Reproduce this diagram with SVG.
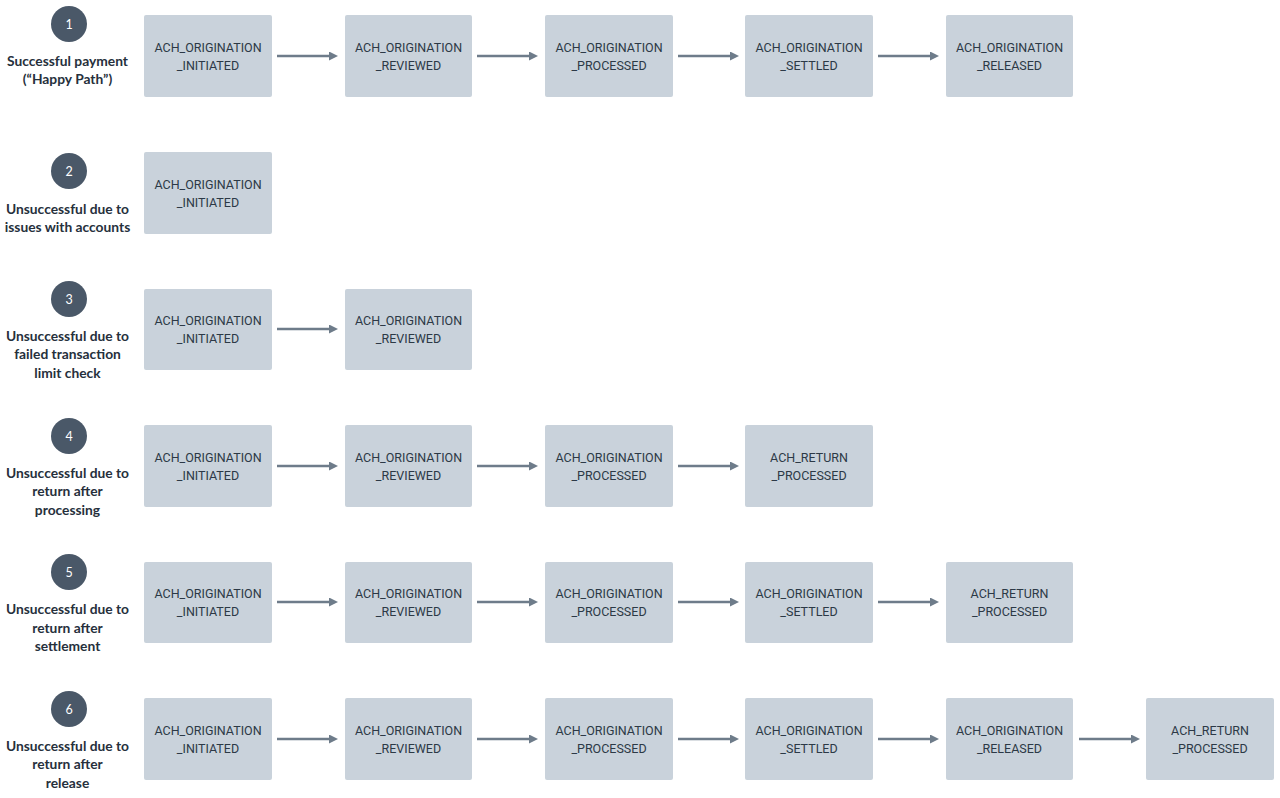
<svg xmlns="http://www.w3.org/2000/svg" width="1280" height="798" viewBox="0 0 1280 798">
<style>
.bg{fill:#ffffff}
.box{fill:#c9d2db}
.bt{font-family:Roboto,"Liberation Sans",sans-serif;font-size:12.5px;fill:#2c3946;text-anchor:middle}
.circ{fill:#4a5868}
.num{font-family:Lato,"Liberation Sans",sans-serif;font-size:12.5px;fill:#ffffff;text-anchor:middle}
.lbl{font-family:Lato,"Liberation Sans",sans-serif;font-size:13.8px;font-weight:bold;fill:#26303c;text-anchor:middle}
.ar{stroke:#6e7c8a;stroke-width:2.5;fill:none;marker-end:url(#ah)}
</style>
<defs>
<marker id="ah" markerWidth="9" markerHeight="9" refX="5" refY="4.5" orient="auto" markerUnits="userSpaceOnUse">
<path d="M0,0 L9,4.5 L0,9 Z" fill="#6e7c8a"/>
</marker>
</defs>
<rect class="bg" width="1280" height="798"/>

<!-- Row 1 -->
<g id="row1-label">
<circle class="circ" cx="69" cy="24" r="18"/>
<text class="num" x="69" y="28.5">1</text>
<text class="lbl" x="67.5" y="66">Successful payment</text>
<text class="lbl" x="67.5" y="84">(“Happy Path”)</text>
</g>
<g id="r1n1"><rect class="box" x="144" y="15" width="128" height="82" rx="2"/><text class="bt" x="208" y="51.5">ACH_ORIGINATION</text><text class="bt" x="208" y="69.5">_INITIATED</text></g>
<g id="r1n2"><rect class="box" x="345" y="15" width="127" height="82" rx="2"/><text class="bt" x="408.5" y="51.5">ACH_ORIGINATION</text><text class="bt" x="408.5" y="69.5">_REVIEWED</text></g>
<g id="r1n3"><rect class="box" x="545" y="15" width="128" height="82" rx="2"/><text class="bt" x="609" y="51.5">ACH_ORIGINATION</text><text class="bt" x="609" y="69.5">_PROCESSED</text></g>
<g id="r1n4"><rect class="box" x="745" y="15" width="128" height="82" rx="2"/><text class="bt" x="809" y="51.5">ACH_ORIGINATION</text><text class="bt" x="809" y="69.5">_SETTLED</text></g>
<g id="r1n5"><rect class="box" x="946" y="15" width="127" height="82" rx="2"/><text class="bt" x="1009.5" y="51.5">ACH_ORIGINATION</text><text class="bt" x="1009.5" y="69.5">_RELEASED</text></g>

<!-- Row 2 -->
<g id="row2-label">
<circle class="circ" cx="69" cy="171" r="18"/>
<text class="num" x="69" y="175.5">2</text>
<text class="lbl" x="67.5" y="214">Unsuccessful due to</text>
<text class="lbl" x="67.5" y="232">issues with accounts</text>
</g>
<g id="r2n1"><rect class="box" x="144" y="152" width="128" height="82" rx="2"/><text class="bt" x="208" y="188.5">ACH_ORIGINATION</text><text class="bt" x="208" y="206.5">_INITIATED</text></g>

<!-- Row 3 -->
<g id="row3-label">
<circle class="circ" cx="69" cy="299" r="18"/>
<text class="num" x="69" y="303.5">3</text>
<text class="lbl" x="67.5" y="341">Unsuccessful due to</text>
<text class="lbl" x="67.5" y="359">failed transaction</text>
<text class="lbl" x="67.5" y="377.5">limit check</text>
</g>
<g id="r3n1"><rect class="box" x="144" y="289" width="128" height="81" rx="2"/><text class="bt" x="208" y="325">ACH_ORIGINATION</text><text class="bt" x="208" y="343">_INITIATED</text></g>
<g id="r3n2"><rect class="box" x="345" y="289" width="127" height="81" rx="2"/><text class="bt" x="408.5" y="325">ACH_ORIGINATION</text><text class="bt" x="408.5" y="343">_REVIEWED</text></g>

<!-- Row 4 -->
<g id="row4-label">
<circle class="circ" cx="69" cy="436" r="18"/>
<text class="num" x="69" y="440.5">4</text>
<text class="lbl" x="67.5" y="478">Unsuccessful due to</text>
<text class="lbl" x="67.5" y="496">return after</text>
<text class="lbl" x="67.5" y="514.5">processing</text>
</g>
<g id="r4n1"><rect class="box" x="144" y="425" width="128" height="82" rx="2"/><text class="bt" x="208" y="461.5">ACH_ORIGINATION</text><text class="bt" x="208" y="479.5">_INITIATED</text></g>
<g id="r4n2"><rect class="box" x="345" y="425" width="127" height="82" rx="2"/><text class="bt" x="408.5" y="461.5">ACH_ORIGINATION</text><text class="bt" x="408.5" y="479.5">_REVIEWED</text></g>
<g id="r4n3"><rect class="box" x="545" y="425" width="128" height="82" rx="2"/><text class="bt" x="609" y="461.5">ACH_ORIGINATION</text><text class="bt" x="609" y="479.5">_PROCESSED</text></g>
<g id="r4n4"><rect class="box" x="745" y="425" width="128" height="82" rx="2"/><text class="bt" x="809" y="461.5">ACH_RETURN</text><text class="bt" x="809" y="479.5">_PROCESSED</text></g>

<!-- Row 5 -->
<g id="row5-label">
<circle class="circ" cx="69" cy="572" r="18"/>
<text class="num" x="69" y="576.5">5</text>
<text class="lbl" x="67.5" y="614">Unsuccessful due to</text>
<text class="lbl" x="67.5" y="632.5">return after</text>
<text class="lbl" x="67.5" y="651">settlement</text>
</g>
<g id="r5n1"><rect class="box" x="144" y="562" width="128" height="81" rx="2"/><text class="bt" x="208" y="598">ACH_ORIGINATION</text><text class="bt" x="208" y="616">_INITIATED</text></g>
<g id="r5n2"><rect class="box" x="345" y="562" width="127" height="81" rx="2"/><text class="bt" x="408.5" y="598">ACH_ORIGINATION</text><text class="bt" x="408.5" y="616">_REVIEWED</text></g>
<g id="r5n3"><rect class="box" x="545" y="562" width="128" height="81" rx="2"/><text class="bt" x="609" y="598">ACH_ORIGINATION</text><text class="bt" x="609" y="616">_PROCESSED</text></g>
<g id="r5n4"><rect class="box" x="745" y="562" width="128" height="81" rx="2"/><text class="bt" x="809" y="598">ACH_ORIGINATION</text><text class="bt" x="809" y="616">_SETTLED</text></g>
<g id="r5n5"><rect class="box" x="946" y="562" width="127" height="81" rx="2"/><text class="bt" x="1009.5" y="598">ACH_RETURN</text><text class="bt" x="1009.5" y="616">_PROCESSED</text></g>

<!-- Row 6 -->
<g id="row6-label">
<circle class="circ" cx="69" cy="709" r="18"/>
<text class="num" x="69" y="713.5">6</text>
<text class="lbl" x="67.5" y="751">Unsuccessful due to</text>
<text class="lbl" x="67.5" y="769">return after</text>
<text class="lbl" x="67.5" y="787.5">release</text>
</g>
<g id="r6n1"><rect class="box" x="144" y="698" width="128" height="82" rx="2"/><text class="bt" x="208" y="734.5">ACH_ORIGINATION</text><text class="bt" x="208" y="752.5">_INITIATED</text></g>
<g id="r6n2"><rect class="box" x="345" y="698" width="127" height="82" rx="2"/><text class="bt" x="408.5" y="734.5">ACH_ORIGINATION</text><text class="bt" x="408.5" y="752.5">_REVIEWED</text></g>
<g id="r6n3"><rect class="box" x="545" y="698" width="128" height="82" rx="2"/><text class="bt" x="609" y="734.5">ACH_ORIGINATION</text><text class="bt" x="609" y="752.5">_PROCESSED</text></g>
<g id="r6n4"><rect class="box" x="745" y="698" width="128" height="82" rx="2"/><text class="bt" x="809" y="734.5">ACH_ORIGINATION</text><text class="bt" x="809" y="752.5">_SETTLED</text></g>
<g id="r6n5"><rect class="box" x="946" y="698" width="127" height="82" rx="2"/><text class="bt" x="1009.5" y="734.5">ACH_ORIGINATION</text><text class="bt" x="1009.5" y="752.5">_RELEASED</text></g>
<g id="r6n6"><rect class="box" x="1146" y="698" width="128" height="82" rx="2"/><text class="bt" x="1210" y="734.5">ACH_RETURN</text><text class="bt" x="1210" y="752.5">_PROCESSED</text></g>

<g id="connectors">
<line class="ar" x1="277" y1="56" x2="334" y2="56"/>
<line class="ar" x1="477" y1="56" x2="534" y2="56"/>
<line class="ar" x1="678" y1="56" x2="735" y2="56"/>
<line class="ar" x1="878" y1="56" x2="935" y2="56"/>

<line class="ar" x1="277" y1="329" x2="334" y2="329"/>

<line class="ar" x1="277" y1="466" x2="334" y2="466"/>
<line class="ar" x1="477" y1="466" x2="534" y2="466"/>
<line class="ar" x1="678" y1="466" x2="735" y2="466"/>

<line class="ar" x1="277" y1="602" x2="334" y2="602"/>
<line class="ar" x1="477" y1="602" x2="534" y2="602"/>
<line class="ar" x1="678" y1="602" x2="735" y2="602"/>
<line class="ar" x1="878" y1="602" x2="935" y2="602"/>

<line class="ar" x1="277" y1="739" x2="334" y2="739"/>
<line class="ar" x1="477" y1="739" x2="534" y2="739"/>
<line class="ar" x1="678" y1="739" x2="735" y2="739"/>
<line class="ar" x1="878" y1="739" x2="935" y2="739"/>
<line class="ar" x1="1079" y1="739" x2="1136" y2="739"/>
</g>
</svg>
